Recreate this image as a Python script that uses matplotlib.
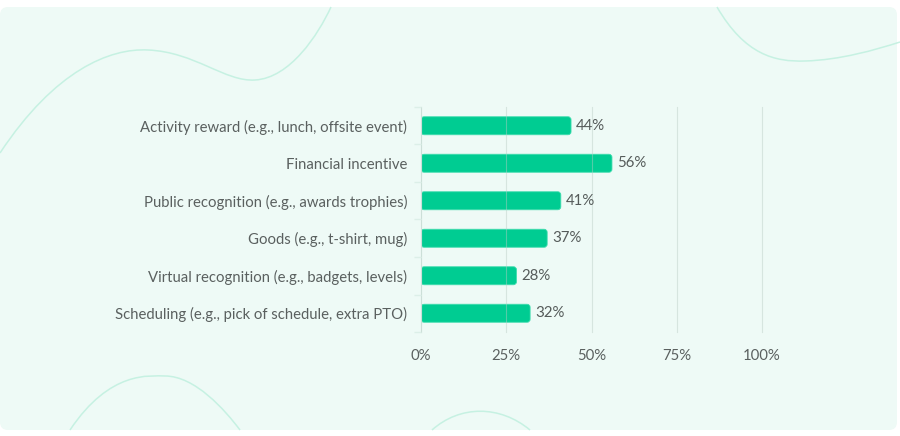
import numpy as np
import matplotlib.pyplot as plt
from matplotlib.patches import FancyBboxPatch
from matplotlib.path import Path
from matplotlib.patches import PathPatch

# survey answers, top to bottom
categories = [
    "Activity reward (e.g., lunch, offsite event)",
    "Financial incentive",
    "Public recognition (e.g., awards trophies)",
    "Goods (e.g., t-shirt, mug)",
    "Virtual recognition (e.g., badgets, levels)",
    "Scheduling (e.g., pick of schedule, extra PTO)",
]
values = [44, 56, 41, 37, 28, 32]
xticks = [0, 25, 50, 75, 100]
xtick_labels = ["0%", "25%", "50%", "75%", "100%"]

BG = "#eefaf6"
BAR = "#00cc92"
CURVE = "#c6f1e2"
TEXT = "#5a605f"

plt.rcParams['font.family'] = ['Lato', 'DejaVu Sans']

W, H = 900, 436
fig = plt.figure(figsize=(9, 4.36), dpi=100)
fig.patch.set_facecolor("white")

# background panel + decorative curves (pixel coords, y from top)
bg = fig.add_axes([0, 0, 1, 1])
bg.set_xlim(0, W)
bg.set_ylim(H, 0)
bg.axis("off")
bg.add_patch(FancyBboxPatch((0, 7), 897, 423, boxstyle="round,pad=0,rounding_size=8",
                            facecolor=BG, edgecolor="none"))


def curve(pts):
    verts = [pts[0]]
    codes = [Path.MOVETO]
    for p in pts[1:]:
        verts.append(p)
        codes.append(Path.CURVE4)
    bg.add_patch(PathPatch(Path(verts, codes), facecolor="none", edgecolor=CURVE, lw=1.1))


curve([(0, 153), (55, 70), (110, 48), (148, 50),
       (195, 52), (225, 82), (255, 80),
       (290, 78), (318, 35), (331, 7)])
curve([(717, 7), (745, 55), (775, 62), (805, 61),
       (840, 60), (875, 50), (900, 42)])
curve([(70, 430), (110, 370), (150, 376), (165, 376),
       (195, 376), (225, 410), (240, 430)])
curve([(432, 430), (460, 405), (500, 405), (530, 430)])

ax = fig.add_axes([421 / W, 1 - 332 / H, (762 - 421) / W, 225 / H])
ax.set_facecolor("none")
y = np.arange(len(categories))
bars = ax.barh(y, values, height=0.48, color=BAR)
ax.set_xlim(0, 100)
ax.set_ylim(len(categories) - 0.5, -0.5)

# swap plain bars for rounded ones
for b in bars:
    x0, y0 = b.get_x(), b.get_y()
    w, h = b.get_width(), b.get_height()
    b.remove()
    ax.add_patch(FancyBboxPatch((x0, y0), w, h,
                                boxstyle="round,pad=0,rounding_size=0.9",
                                mutation_aspect=0.09, facecolor=BAR,
                                edgecolor="#3fdcae", lw=0.6, zorder=2))

for yi, v in zip(y, values):
    ax.text(v + 1.5, yi, f"{v}%", va="center", ha="left", fontsize=10.8,
            color="#555b5a")

ax.set_yticks(y)
ax.set_yticklabels(categories, fontsize=10.7, color=TEXT)
ax.set_xticks(xticks)
ax.set_xticklabels(xtick_labels, fontsize=10.7, color=TEXT)
ax.tick_params(axis="y", length=0, pad=10)
ax.tick_params(axis="x", length=0, pad=12)
ax.set_yticks(np.arange(len(categories) + 1) - 0.5, minor=True)
ax.tick_params(axis="y", which="minor", length=5, color="#dcefe8", width=1)

for s in ["top", "right", "bottom"]:
    ax.spines[s].set_visible(False)
ax.spines["left"].set_color("#dcefe8")
ax.grid(axis="x", color="#b9ccc5", alpha=0.45, lw=0.8)
ax.set_axisbelow(False)
for line in ax.get_xgridlines():
    line.set_zorder(3)
    line.set_clip_on(False)

fig.savefig("out.png", dpi=100, facecolor="white")
